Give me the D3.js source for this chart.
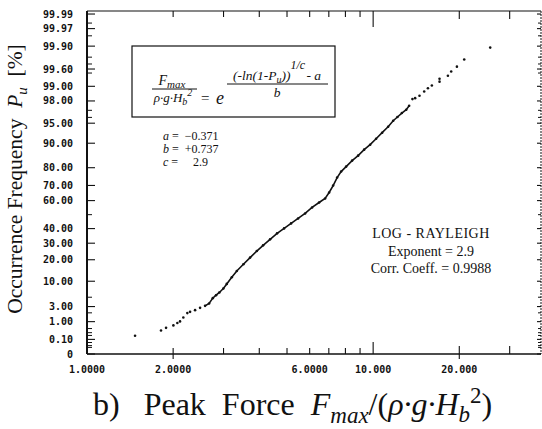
<!DOCTYPE html>
<html>
<head>
<meta charset="utf-8">
<script src="https://cdn.jsdelivr.net/npm/d3@7"></script>
<style>
  html, body { margin: 0; padding: 0; background: #fff; }
  svg { display: block; }
  .serif { font-family: "Liberation Serif", "Times New Roman", serif; }
  .mono { font-family: "DejaVu Sans Mono", monospace; font-weight: bold; }
</style>
</head>
<body>
<svg id="chart" width="542" height="429"></svg>
<script>
// Measured peak forces (normalised) and their plotting-position frequencies
const peakForce = [1.472, 1.814, 1.889, 2.004, 2.069, 2.114, 2.171, 2.242, 2.292, 2.386,
  2.484, 2.586, 2.671, 2.751, 2.825, 2.901, 2.996, 3.079, 3.206, 3.338,
  3.520, 3.715, 3.921, 4.125, 4.364, 4.617, 4.885, 5.168, 5.467, 5.784,
  6.118, 6.473, 6.794, 7.017, 7.247, 7.484, 7.729, 8.047, 8.445, 8.862,
  9.301, 9.761, 10.24, 10.75, 11.28, 11.75, 12.16, 12.60, 13.05, 13.36,
  13.72, 14.02, 14.52, 15.08, 15.54, 16.04, 17.06, 17.06, 18.25, 18.74,
  19.62, 20.81, 25.65];
const occurrencePct = [0.19, 0.40, 0.54, 0.70, 0.88, 1.02, 1.42, 1.96, 2.14, 2.40,
  2.77, 3.13, 3.60, 4.77, 5.52, 6.27, 7.47, 9.02, 11.57, 14.32,
  17.59, 21.19, 25.05, 28.62, 32.54, 36.64, 40.14, 43.70, 47.28, 50.87,
  55.17, 58.69, 61.45, 65.47, 69.95, 74.72, 78.01, 80.56, 83.37, 85.50,
  87.81, 89.53, 91.36, 92.95, 94.30, 95.44, 96.06, 96.64, 97.07, 97.53,
  98.16, 98.24, 98.42, 98.71, 98.90, 99.04, 99.21, 99.32, 99.42, 99.54,
  99.65, 99.77, 99.89];

// Frequency axis (log-Rayleigh paper)
const freqTicks = [0, 0.1, 1, 3, 10, 20, 30, 40, 60, 70, 80, 90, 95, 98, 99, 99.6, 99.9, 99.97, 99.99];
const freqTickLabels = ["0", "0.10", "1.00", "3.00", "10.00", "20.00", "30.00", "40.00", "60.00",
  "70.00", "80.00", "90.00", "95.00", "98.00", "99.00", "99.60", "99.90", "99.97", "99.99"];
const freqMinorTicks = [0.01, 0.02, 0.05, 0.2, 0.3, 0.5, 2, 5, 50, 96, 97, 99.5, 99.7, 99.8, 99.95, 99.98];

// Force axis (logarithmic)
const forceTicks = [1, 2, 6, 10, 20];
const forceTickLabels = ["1.0000", "2.0000", "6.0000", "10.000", "20.000"];
const forceMinorTicks = [3, 4, 5, 7, 8, 9, 30];

// Fitted parameters
const fitA = -0.371, fitB = 0.737, fitC = 2.9, corrCoeff = 0.9988;

(function draw() {
  const svg = d3.select("#chart");
  const mLeft = 87, mRight = 541, mTop = 11, mBottom = 354;

  const x = d3.scaleLog().domain([1, 38.6]).range([mLeft, mRight]);
  // reduced variate of the Rayleigh-type distribution
  const reduced = p => Math.pow(-Math.log(1 - p / 100), 1 / fitC);
  const yT = d3.scaleLinear().domain([0, 2.1695]).range([mBottom, mTop]);
  const y = p => yT(reduced(p));

  // frame
  const g = svg.append("g").attr("stroke", "#111").attr("fill", "none");
  g.append("line").attr("x1", mLeft).attr("x2", mRight).attr("y1", mTop).attr("y2", mTop).attr("stroke-width", 1.2);
  g.append("line").attr("x1", mLeft).attr("x2", mRight).attr("y1", mBottom).attr("y2", mBottom).attr("stroke-width", 1.4);
  g.append("line").attr("x1", mLeft).attr("x2", mLeft).attr("y1", mTop).attr("y2", mBottom).attr("stroke-width", 2);
  g.append("line").attr("x1", mRight).attr("x2", mRight).attr("y1", mTop).attr("y2", mBottom).attr("stroke-width", 1).attr("stroke-dasharray", "2,1");

  // left / right axis ticks
  freqTicks.forEach(p => {
    g.append("line").attr("x1", mLeft).attr("x2", mLeft + 8).attr("y1", y(p)).attr("y2", y(p)).attr("stroke-width", 1.1);
    g.append("line").attr("x1", mRight).attr("x2", mRight - 4).attr("y1", y(p)).attr("y2", y(p)).attr("stroke-width", 1.1);
  });
  freqMinorTicks.forEach(p => {
    g.append("line").attr("x1", mLeft).attr("x2", mLeft + 5).attr("y1", y(p)).attr("y2", y(p)).attr("stroke-width", 1);
    g.append("line").attr("x1", mRight).attr("x2", mRight - 3).attr("y1", y(p)).attr("y2", y(p)).attr("stroke-width", 1);
  });

  svg.append("g").attr("class", "mono").attr("font-size", 10).attr("fill", "#111")
    .selectAll("text").data(freqTicks).join("text")
    .attr("x", 73).attr("y", d => y(d) + 3.5).attr("text-anchor", "end")
    .text((d, i) => freqTickLabels[i]);

  // top and bottom axis ticks
  const allForce = forceTicks.concat(forceMinorTicks).filter(v => v > 1);
  allForce.forEach(v => {
    const long = v === 10;
    const len = long ? 12 : (v >= 20 ? 8 : 6);
    g.append("line").attr("x1", x(v)).attr("x2", x(v)).attr("y1", mTop).attr("y2", mTop + (long ? 16 : len)).attr("stroke-width", 1.1);
    g.append("line").attr("x1", x(v)).attr("x2", x(v)).attr("y1", mBottom + (v === 2 || v === 20 ? 5 : 0)).attr("y2", mBottom - len).attr("stroke-width", 1.1);
  });

  svg.append("g").attr("class", "mono").attr("font-size", 10).attr("fill", "#111")
    .selectAll("text").data(forceTicks).join("text")
    .attr("x", d => x(d)).attr("y", 373).attr("text-anchor", "middle")
    .text((d, i) => forceTickLabels[i]);

  // data
  const pts = peakForce.map((f, i) => ({ f, p: occurrencePct[i] }));
  const dense = pts.filter(d => d.p >= 3 && d.p <= 97.6);
  svg.append("path").datum(dense)
    .attr("d", d3.line().x(d => x(d.f)).y(d => y(d.p)))
    .attr("fill", "none").attr("stroke", "#111").attr("stroke-width", 1.6);
  svg.append("g").selectAll("circle").data(pts).join("circle")
    .attr("cx", d => x(d.f)).attr("cy", d => y(d.p)).attr("r", 1.3).attr("fill", "#111");

  // formula box
  svg.append("rect").attr("x", 132).attr("y", 46).attr("width", 203).attr("height", 71)
    .attr("fill", "none").attr("stroke", "#111").attr("stroke-width", 1.2);
  const fb = svg.append("g").attr("class", "serif").attr("fill", "#111").attr("font-style", "italic");

  let t = fb.append("text").attr("x", 172).attr("y", 85).attr("text-anchor", "middle").attr("font-size", 14);
  t.append("tspan").text("F");
  t.append("tspan").attr("font-size", 11).attr("dy", 3).text("max");
  fb.append("line").attr("x1", 152).attr("x2", 197).attr("y1", 89).attr("y2", 89).attr("stroke", "#111").attr("stroke-width", 1);
  t = fb.append("text").attr("x", 173).attr("y", 102).attr("text-anchor", "middle").attr("font-size", 13);
  t.append("tspan").text("ρ·g·H");
  t.append("tspan").attr("font-size", 10).attr("dy", 3).text("b");
  t.append("tspan").attr("font-size", 10).attr("dy", -9).text("2");
  fb.append("text").attr("x", 201).attr("y", 103).attr("font-size", 15).attr("font-style", "normal").text("=");
  fb.append("text").attr("x", 216).attr("y", 104).attr("font-size", 18).text("e");

  t = fb.append("text").attr("x", 277).attr("y", 80).attr("text-anchor", "middle").attr("font-size", 13.5);
  t.append("tspan").text("(-ln(1-P");
  t.append("tspan").attr("font-size", 10).attr("dy", 3).text("u");
  t.append("tspan").attr("dy", -3).text("))");
  t.append("tspan").attr("font-size", 12).attr("dy", -11).text("1/c");
  t.append("tspan").attr("dy", 11).attr("dx", -2).text(" - a");
  fb.append("line").attr("x1", 227).attr("x2", 328).attr("y1", 84).attr("y2", 84).attr("stroke", "#111").attr("stroke-width", 1);
  fb.append("text").attr("x", 277).attr("y", 97).attr("text-anchor", "middle").attr("font-size", 13.5).text("b");

  // fitted parameters
  const params = [["a", "=  −" + Math.abs(fitA).toFixed(3)], ["b", "=  +" + fitB.toFixed(3)], ["c", "=     " + fitC.toFixed(1)]];
  params.forEach((d, i) => {
    const tx = svg.append("text").attr("class", "serif").attr("x", 163).attr("y", 140 + i * 13)
      .attr("font-size", 12).attr("fill", "#111").attr("xml:space", "preserve");
    tx.append("tspan").attr("font-style", "italic").text(d[0]);
    tx.append("tspan").text(" " + d[1]);
  });

  // distribution annotation
  const ann = svg.append("g").attr("class", "serif").attr("fill", "#111").attr("text-anchor", "middle");
  ann.append("text").attr("x", 431).attr("y", 238).attr("font-size", 14).attr("letter-spacing", 0.5).text("LOG - RAYLEIGH");
  ann.append("text").attr("x", 431).attr("y", 256).attr("font-size", 14).text("Exponent = " + fitC.toFixed(1));
  ann.append("text").attr("x", 431).attr("y", 273).attr("font-size", 14).text("Corr. Coeff. = " + corrCoeff.toFixed(4));

  // y-axis title
  const yt = svg.append("text").attr("class", "serif").attr("font-size", 21.5).attr("fill", "#111")
    .attr("transform", "translate(22,179) rotate(-90)").attr("text-anchor", "middle").attr("xml:space", "preserve");
  yt.append("tspan").text("Occurrence Frequency  ");
  yt.append("tspan").attr("font-style", "italic").text("P");
  yt.append("tspan").attr("font-style", "italic").attr("font-size", 15).attr("dy", 5).text("u");
  yt.append("tspan").attr("dy", -5).text("  [%]");

  // x-axis title
  const xt = svg.append("text").attr("class", "serif").attr("font-size", 32).attr("fill", "#111")
    .attr("x", 93).attr("y", 415).attr("xml:space", "preserve");
  xt.append("tspan").text("b)   Peak  Force  ");
  xt.append("tspan").attr("font-style", "italic").text("F");
  xt.append("tspan").attr("font-style", "italic").attr("font-size", 23).attr("dy", 8).text("max");
  xt.append("tspan").attr("dy", -8).text("/(");
  xt.append("tspan").attr("font-style", "italic").text("ρ·g·H");
  xt.append("tspan").attr("font-style", "italic").attr("font-size", 23).attr("dy", 7).text("b");
  xt.append("tspan").attr("font-size", 23).attr("dy", -19).text("2");
  xt.append("tspan").attr("dy", 12).text(")");
})();
</script>
</body>
</html>
